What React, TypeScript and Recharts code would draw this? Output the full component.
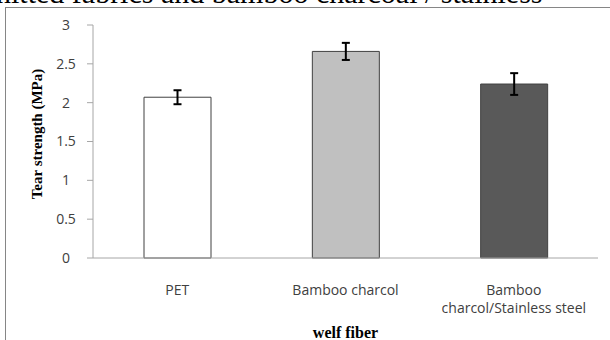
import { Bar, BarChart, Cell, ErrorBar, XAxis, YAxis } from 'recharts'

const categories = ['PET', 'Bamboo charcol', 'Bamboo charcol/Stainless steel']
const tearStrength = [2.07, 2.66, 2.24]
const tearError = [0.09, 0.11, 0.14]
const barColors = ['#ffffff', '#c0c0c0', '#595959']
const yTicks = [0, 0.5, 1, 1.5, 2, 2.5, 3]

const data = categories.map((name, i) => ({
  name,
  value: tearStrength[i],
  err: tearError[i],
}))

const AXIS_GRAY = '#a6a6a6'
const LABEL_GRAY = '#404040'
const SANS = '"Open Sans", "Noto Sans", sans-serif'
const SERIF = '"Liberation Serif", "DejaVu Serif", serif'

// Excel wraps the long label after the first word
function splitLabel(label: string): string[] {
  if (label.length <= 16) return [label]
  const i = label.indexOf(' ')
  return [label.slice(0, i), label.slice(i + 1)]
}

function CategoryTick(props: any) {
  const { x, y, payload } = props
  const lines = splitLabel(String(payload.value))
  return (
    <text x={x} y={y} textAnchor="middle" fill={LABEL_GRAY} fontSize={14} fontFamily={SANS}>
      {lines.map((line, i) => (
        <tspan key={i} x={x} dy={i === 0 ? 29 : 18}>
          {line}
        </tspan>
      ))}
    </text>
  )
}

function ValueTick(props: any) {
  const { x, y, payload } = props
  return (
    <text x={x - 19} y={y} dy="0.35em" textAnchor="middle" fill={LABEL_GRAY} fontSize={14} fontFamily={SANS}>
      {payload.value}
    </text>
  )
}

export default function App() {
  return (
    <div style={{ position: 'absolute', left: 0, top: 0, width: 610, height: 340, overflow: 'hidden', background: '#fff' }}>
      <svg width={610} height={6} style={{ position: 'absolute', left: 0, top: 0 }}>
        <text x={-4} y={3} fontSize={30} fontFamily={SERIF} fill="#000">
          nitted fabrics and bamboo charcoal / stainless
        </text>
      </svg>
      <div
        style={{
          position: 'absolute',
          left: 5,
          top: 7,
          width: 620,
          height: 350,
          border: '1px solid #868686',
          boxSizing: 'border-box',
        }}
      />
      <div style={{ position: 'absolute', left: 0, top: 0 }}>
        <BarChart width={610} height={340} data={data} margin={{ top: 25, right: 12, left: 0, bottom: 0 }}>
          <XAxis
            dataKey="name"
            height={82}
            interval={0}
            tickLine={false}
            axisLine={{ stroke: AXIS_GRAY }}
            tick={<CategoryTick />}
            label={({ viewBox }: any) => (
              <text
                x={viewBox.x + viewBox.width / 2}
                y={338}
                textAnchor="middle"
                fontSize={16}
                fontWeight="bold"
                fontFamily={SERIF}
                fill="#000"
              >
                welf fiber
              </text>
            )}
          />
          <YAxis
            width={93}
            domain={[0, 3]}
            ticks={yTicks}
            interval={0}
            tickSize={6}
            tickMargin={2}
            tickLine={{ stroke: AXIS_GRAY }}
            axisLine={{ stroke: AXIS_GRAY }}
            tick={<ValueTick />}
            label={() => (
              <text
                x={37}
                y={134}
                transform="rotate(-90, 37, 134)"
                textAnchor="middle"
                dominantBaseline="central"
                fontSize={15}
                fontWeight="bold"
                fontFamily={SERIF}
                fill="#000"
              >
                Tear strength (MPa)
              </text>
            )}
          />
          <Bar dataKey="value" barSize={67} stroke="#404040" strokeWidth={1} isAnimationActive={false}>
            {data.map((d, i) => (
              <Cell key={d.name} fill={barColors[i]} />
            ))}
            <ErrorBar dataKey="err" width={4} stroke="#000" strokeWidth={2} direction="y" isAnimationActive={false} />
          </Bar>
        </BarChart>
      </div>
    </div>
  )
}
